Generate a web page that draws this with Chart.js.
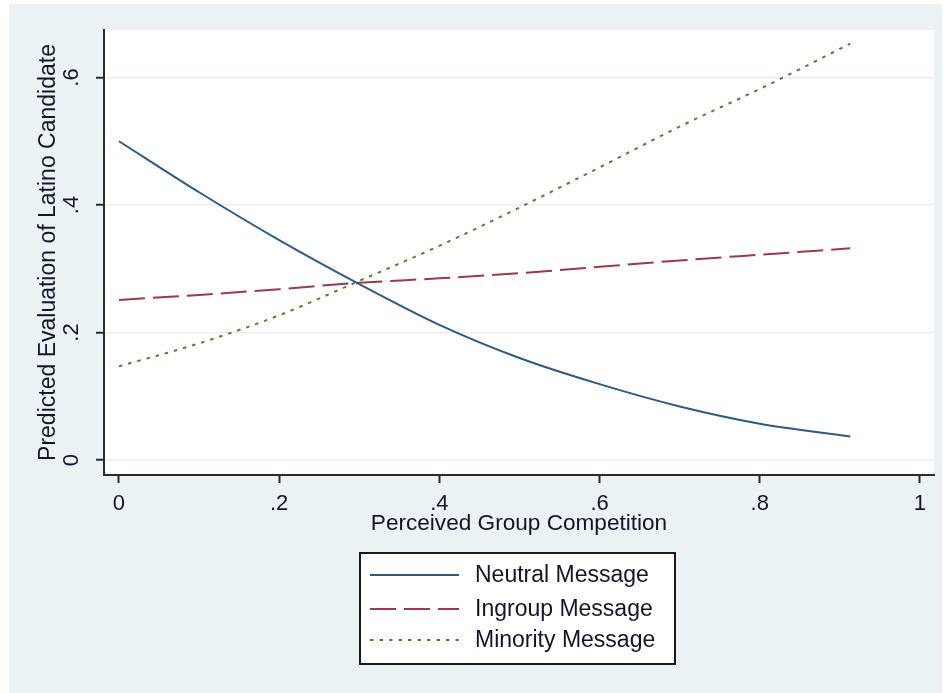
<!DOCTYPE html>
<html><head><meta charset="utf-8">
<script src="https://cdn.jsdelivr.net/npm/chart.js@4"></script>
<style>html,body{margin:0;padding:0;background:#fff;}canvas{display:block;}</style>
</head><body>
<canvas id="c" width="948" height="693"></canvas>
<script>
const competition = [0, 0.1, 0.2, 0.3, 0.4, 0.5, 0.6, 0.7, 0.8, 0.913];
const neutralMessage = [0.500, 0.420, 0.345, 0.276, 0.212, 0.160, 0.119, 0.084, 0.057, 0.037];
const ingroupMessage = [0.251, 0.259, 0.268, 0.278, 0.285, 0.293, 0.303, 0.313, 0.322, 0.332];
const minorityMessage = [0.147, 0.183, 0.227, 0.281, 0.336, 0.396, 0.459, 0.523, 0.582, 0.653];
const seriesNames = ['Neutral Message', 'Ingroup Message', 'Minority Message'];
const xTicks = [0, 0.2, 0.4, 0.6, 0.8, 1];
const xTickLabels = ['0', '.2', '.4', '.6', '.8', '1'];
const yTicks = [0, 0.2, 0.4, 0.6];
const yTickLabels = ['0', '.2', '.4', '.6'];
const xTitle = 'Perceived Group Competition';
const yTitle = 'Predicted Evaluation of Latino Candidate';

const FONT = "'Liberation Sans', Arial, sans-serif";
const TXT = '#14142a';
const AX = '#2b2b2b';
const toPts = ys => competition.map((x, i) => ({x: x, y: ys[i]}));

const bgPlugin = {
  id: 'bg',
  beforeDraw(chart) {
    const ctx = chart.ctx, a = chart.chartArea;
    ctx.save();
    ctx.fillStyle = '#eaf2f3';
    ctx.fillRect(9, 4, 933, 689);
    ctx.fillStyle = '#ffffff';
    ctx.fillRect(a.left, a.top, a.right - a.left, a.bottom - a.top);
    ctx.restore();
  }
};

const legendPlugin = {
  id: 'stataLegend',
  afterDraw(chart) {
    const ctx = chart.ctx;
    const bx = 360, by = 553, bw = 315, bh = 111;
    ctx.save();
    ctx.fillStyle = '#ffffff';
    ctx.fillRect(bx, by, bw, bh);
    ctx.strokeStyle = '#1a1a1a';
    ctx.lineWidth = 2;
    ctx.strokeRect(bx, by, bw, bh);
    const rows = [575, 609, 640];
    chart.data.datasets.forEach((ds, i) => {
      const y = rows[i];
      ctx.beginPath();
      ctx.setLineDash(ds.borderDash || []);
      ctx.strokeStyle = ds.borderColor;
      ctx.lineWidth = ds.borderWidth;
      ctx.moveTo(370, y);
      ctx.lineTo(459, y);
      ctx.stroke();
      ctx.setLineDash([]);
      ctx.fillStyle = TXT;
      ctx.font = '23px ' + FONT;
      ctx.textAlign = 'left';
      ctx.textBaseline = 'middle';
      ctx.fillText(ds.label, 475, y + 1);
    });
    ctx.restore();
  }
};

new Chart(document.getElementById('c'), {
  type: 'line',
  data: {
    datasets: [
      {label: seriesNames[0], data: toPts(neutralMessage), borderColor: '#2f5a85', borderWidth: 2, pointRadius: 0, fill: false, cubicInterpolationMode: 'monotone'},
      {label: seriesNames[1], data: toPts(ingroupMessage), borderColor: '#9b3b44', borderWidth: 2, borderDash: [26, 8], pointRadius: 0, fill: false, cubicInterpolationMode: 'monotone'},
      {label: seriesNames[2], data: toPts(minorityMessage), borderColor: '#5a7d35', borderWidth: 2, borderDash: [3.5, 6], pointRadius: 0, fill: false, cubicInterpolationMode: 'monotone'}
    ]
  },
  options: {
    responsive: false,
    animation: false,
    devicePixelRatio: 1,
    layout: {padding: {left: 0, right: 14, top: 30, bottom: 0}},
    plugins: {legend: {display: false}, tooltip: {enabled: false}, title: {display: false}},
    scales: {
      x: {
        type: 'linear',
        min: -0.0187, max: 1.0175,
        afterBuildTicks: s => { s.ticks = xTicks.map(v => ({value: v})); },
        afterFit: s => { s.height = 218; },
        grid: {drawOnChartArea: false, tickLength: 8, tickColor: AX, tickWidth: 2},
        border: {display: true, color: AX, width: 2},
        ticks: {
          includeBounds: false, maxRotation: 0, minRotation: 0, autoSkip: false,
          padding: 8, color: TXT, font: {family: FONT, size: 22},
          callback: (v) => { const i = xTicks.findIndex(t => Math.abs(t - v) < 1e-9); return i >= 0 ? xTickLabels[i] : ''; }
        },
        title: {display: true, text: xTitle, color: TXT, font: {family: FONT, size: 22.6}, padding: {top: 0, bottom: 156}}
      },
      y: {
        type: 'linear',
        min: -0.0235, max: 0.6745,
        afterBuildTicks: s => { s.ticks = yTicks.map(v => ({value: v})); },
        afterFit: s => { s.width = 104; },
        grid: {color: '#e6eff1', lineWidth: 1.5, tickLength: 8, tickColor: AX, tickWidth: 2},
        border: {display: true, color: AX, width: 2},
        ticks: {
          includeBounds: false, minRotation: 90, maxRotation: 90, autoSkip: false,
          crossAlign: 'center', padding: 15, color: TXT, font: {family: FONT, size: 22},
          callback: (v) => { const i = yTicks.findIndex(t => Math.abs(t - v) < 1e-9); return i >= 0 ? yTickLabels[i] : ''; }
        },
        title: {display: true, text: yTitle, color: TXT, font: {family: FONT, size: 23}, padding: {top: 34.5, bottom: 0}}
      }
    }
  },
  plugins: [bgPlugin, legendPlugin]
});
</script>
</body></html>
